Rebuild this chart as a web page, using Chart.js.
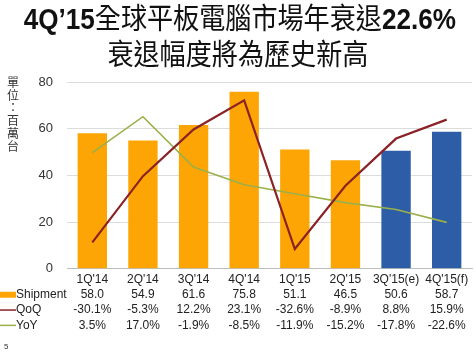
<!DOCTYPE html>
<html><head><meta charset="utf-8">
<script src="https://cdn.jsdelivr.net/npm/chart.js@4.4.1/dist/chart.umd.min.js"></script>
<style>
html,body{margin:0;padding:0;background:#fff;}
#wrap{position:relative;width:476px;height:355px;overflow:hidden;background:#fff;}
canvas{position:absolute;left:0;top:0;}
#title{position:absolute;left:0;top:0;width:476px;text-align:center;font-size:29px;line-height:33px;color:#111;font-family:"Noto Sans CJK TC";transform:scaleX(0.9);transform-origin:237px 0;white-space:nowrap;}
#title b{font-family:"Liberation Sans";font-weight:bold;}
#unit{position:absolute;left:6px;top:76px;width:14px;font-size:12px;line-height:12.7px;color:#333;font-family:"Noto Sans CJK TC";text-align:center;}
#page{position:absolute;left:4px;top:342px;font-size:8px;color:#333;font-family:"Liberation Sans";}
</style></head><body>
<div id="wrap">
<canvas id="c" width="476" height="355"></canvas>
<div id="title"><b>4Q’15</b>全球平板電腦市場年衰退<b>22.6%</b><br>衰退幅度將為歷史新高</div>
<div id="unit">單<br>位<br>：<br>百<br>萬<br>台</div>
<div id="page">5</div>
</div>
<script>
const categories = ["1Q'14","2Q'14","3Q'14","4Q'14","1Q'15","2Q'15","3Q'15(e)","4Q'15(f)"];
const shipment = [58.0, 54.9, 61.6, 75.8, 51.1, 46.5, 50.6, 58.7];
const qoq = [-30.1, -5.3, 12.2, 23.1, -32.6, -8.9, 8.8, 15.9];
const yoy = [3.5, 17.0, -1.9, -8.5, -11.9, -15.2, -17.8, -22.6];
const yTicks = [0, 20, 40, 60, 80];
const rowNames = ["Shipment", "QoQ", "YoY"];

const ORANGE = '#FDA505', BLUE = '#2C5DA6', RED = '#8A2226', GREEN = '#9AB04A';
const barColors = categories.map(c => c.includes('(') ? BLUE : ORANGE);
const tableLabels = categories.map((c, i) => [
  c,
  shipment[i].toFixed(1),
  qoq[i].toFixed(1) + '%',
  yoy[i].toFixed(1) + '%'
]);
const LINE_H = 15.3, TICK_PAD = 3;

const rowHeaders = {
  id: 'rowHeaders',
  afterDraw(chart) {
    const ctx = chart.ctx, x = chart.scales.x;
    ctx.save();
    ctx.font = '12px "Liberation Sans"';
    ctx.textBaseline = 'middle';
    ctx.textAlign = 'left';
    const markers = [ORANGE, RED, GREEN];
    rowNames.forEach((n, i) => {
      const y = x.top + TICK_PAD + LINE_H * (i + 1.5);
      if (i === 0) { ctx.fillStyle = markers[i]; ctx.fillRect(0, y - 3, 16, 6); }
      else { ctx.strokeStyle = markers[i]; ctx.lineWidth = 1.5; ctx.beginPath(); ctx.moveTo(0, y); ctx.lineTo(16, y); ctx.stroke(); }
      ctx.fillStyle = '#222';
      ctx.fillText(n, 16, y);
    });
    ctx.restore();
  }
};

new Chart(document.getElementById('c'), {
  data: {
    labels: tableLabels,
    datasets: [
      { type: 'line', label: 'QoQ', data: qoq, yAxisID: 'y1', borderColor: RED, borderWidth: 2.2, pointRadius: 0, tension: 0, order: 0 },
      { type: 'line', label: 'YoY', data: yoy, yAxisID: 'y1', borderColor: GREEN, borderWidth: 1.6, pointRadius: 0, tension: 0, order: 1 },
      { type: 'bar', label: 'Shipment', data: shipment, yAxisID: 'y', backgroundColor: barColors, barPercentage: 0.58, categoryPercentage: 1.0, order: 2 }
    ]
  },
  options: {
    responsive: false,
    animation: false,
    layout: { padding: { top: 82, right: 4, bottom: 19, left: 0 } },
    plugins: { legend: { display: false }, tooltip: { enabled: false }, title: { display: false } },
    scales: {
      x: {
        grid: { display: false, drawTicks: false },
        border: { display: true, color: '#bdbdbd', width: 1 },
        ticks: { autoSkip: false, maxRotation: 0, minRotation: 0, padding: TICK_PAD, color: '#222',
                 font: { family: 'Liberation Sans', size: 12, lineHeight: LINE_H / 12 } }
      },
      y: {
        min: 0, max: 80,
        afterBuildTicks: s => { s.ticks = yTicks.map(v => ({ value: v })); },
        afterFit: s => { s.width = 67; },
        grid: { color: '#dcdcdc', drawTicks: false },
        border: { display: false },
        ticks: { padding: 14, color: '#333', font: { family: 'Liberation Sans', size: 13 } }
      },
      y1: { min: -40, max: 30, display: false }
    }
  },
  plugins: [rowHeaders]
});
</script>
</body></html>
